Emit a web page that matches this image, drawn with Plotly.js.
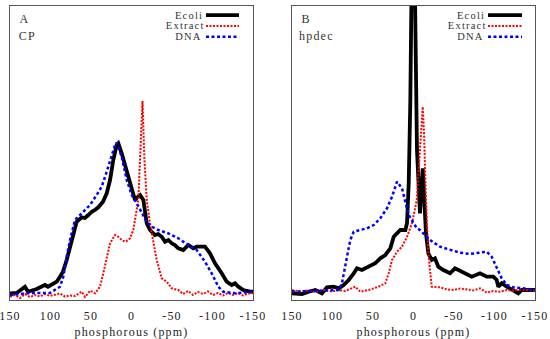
<!DOCTYPE html>
<html>
<head>
<meta charset="utf-8">
<script src="https://cdn.plot.ly/plotly-3.0.1.min.js"></script>
<style>
html,body{margin:0;padding:0;background:#fff;}
#chart{width:550px;height:339px;}
#chart svg text{letter-spacing:1.2px;}
</style>
</head>
<body>
<div id="chart"></div>
<script>
// ---------- Panel A (CP) ----------
var aEcoliPpm = [150,141.7,131.5,127.8,117.0,106.8,103.1,96.9,92.3,88.3,84.6,80.0,75.9,72.2,67.7,61.5,57.5,53.3,49.1,45.1,41.0,35.2,30.6,26.5,22.5,18.3,16.3,12.1,5.9,-0.3,-4.3,-7.5,-10.5,-14.6,-18.8,-22.8,-29.0,-33.0,-37.3,-41.4,-45.5,-49.6,-53.5,-57.8,-64.0,-70.1,-76.3,-80.5,-90.7,-96.9,-103.1,-111.4,-117.5,-123.7,-127.8,-131.9,-138.0,-146.3,-150];
var aEcoliVal = [6.7,7,13.3,8.3,11,15,13.3,16,18.3,23.3,28.3,40,53.3,67,78.3,82.7,82,85,88.3,90,92.7,98.3,106.7,120,140,155,156.7,146.7,128,111,100,103,105,100,76.7,70,65,66,63.3,58.3,60,56.7,55,51.7,50,55,51.7,53.3,53.3,46.7,36.7,26.7,18.3,15,16.7,13.3,10,8.3,8.3];

var aExtractPpm = [150,143.8,137.7,131.5,125.3,119.1,113,106.8,100.6,94.4,88.3,82.1,75.9,69.8,66.0,61.5,57.4,53.7,51.2,45.1,38.9,34.8,30.6,26.5,20.4,16.3,12.1,8.0,3.9,1.8,-2.2,-6.4,-8.4,-10.5,-13.6,-15.8,-18.8,-22.8,-26.9,-31.1,-37.3,-43.5,-49.6,-57.8,-63.6,-69.8,-75.9,-82.1,-88.3,-94.4,-100.6,-106.8,-113,-119.1,-125.3,-131.5,-137.7,-143.8,-150];
var aExtractVal = [3.3,5,2,6,3,5,3.5,6,4,5.5,6.7,3.3,4.5,4,6,8.3,3,7,9.3,6.7,13.3,26.7,43.3,56.7,65,63.3,60,58.3,60,61.7,70,93.3,100,140,199,143.3,100,76.7,56.7,40,21.7,18.3,11.7,10,6,9,5,8,6,8.5,5,7,4.5,7,5,7,4.5,6.5,6.7];

var aDnaPpm = [150,129.4,113,100.6,88.3,84.2,80.0,75.9,69.8,65.7,59.5,51.2,43.0,36.8,30.6,26.5,20.4,18.3,12.1,5.9,-0.3,-6.4,-12.6,-18.8,-24.9,-33.1,-45.4,-57.8,-70.1,-80.5,-90.7,-99.0,-107.2,-113.3,-127.8,-150];
var aDnaVal = [5,6.7,7,7,13.3,23.3,43.3,60,80,83.3,88.3,95,105,113.3,128.3,138.3,155,157.3,143.3,120,105,96.7,86.7,78.3,73.3,70,66.7,61.7,55,50,38.3,26.7,13.3,8.3,6.7,8.3];

// ---------- Panel B (hpdec) ----------
var bEcoliPpm = [150,137.7,129.4,121.2,113,106.8,98.5,92.3,86.2,80.0,73.8,69.8,63.6,55.3,47.2,41.0,34.8,28.6,24.4,20.4,16.3,10.1,8.0,5.9,3.9,1.0,-1.9,-4.3,-8.0,-11.4,-15.4,-18.3,-22.5,-26.5,-30.6,-36.8,-45.1,-51.2,-59.5,-65.7,-71.9,-82.1,-90.4,-98.5,-102.7,-104.7,-108.9,-115.1,-123.2,-129.4,-133.6,-141.8,-150];
var bEcoliVal = [6.7,6,8.3,10,6.7,12.7,13.3,11.7,15,20,26.7,31.7,30,33.3,36.7,41.7,45,51.7,63.3,66.7,70,70,76.7,116.7,200,420,300,150,86.7,131.7,66.7,46.7,40,41.7,33.3,30,26.7,31.7,28.3,26.7,23.3,26.7,23.3,23.3,20,13.3,16.7,13.3,10,6.7,10,10,10];

var bExtractPpm = [150,140.1,130.2,120.4,110.5,100.6,92.3,84.6,78.4,71.9,65.7,55.3,43.0,34.8,30.6,26.5,20.4,14.2,8.0,1.8,-4.0,-7.2,-10.1,-11.4,-13.0,-15.4,-18.3,-22.5,-32.7,-41.4,-49.2,-57.4,-65.7,-73.5,-82.1,-90.4,-98.2,-106.8,-115.4,-123.2,-131.5,-139.8,-150];
var bExtractVal = [10,8.5,9.5,8,10,8.5,10,9,11,13.3,8.3,10,13.3,16.7,26.7,40,48.3,53.3,63.3,76.7,100,140,173.3,193.3,166.7,100,46.7,13.3,12.7,10.5,10,11.5,10.7,9.5,11.7,7.3,9,8.3,10,9.3,10.5,10,9.3];

var bDnaPpm = [150,127.8,108.9,92.3,88.3,86.2,82.1,78.0,73.8,65.7,57.4,49.1,41.0,32.7,26.5,20.4,14.2,10.1,5.9,-0.2,-4.3,-8.0,-20.4,-32.7,-45.1,-57.4,-69.8,-82.1,-90.4,-96.5,-102.7,-108.9,-115.1,-123.2,-135.6,-150];
var bDnaVal = [8.3,9,10,10,16.7,26.7,43.3,60,68.3,70,71.7,75,81.7,91.7,103.3,118.3,111.7,98.3,85,76.7,71.7,70,60,53.3,50,47.3,46,47.3,48.3,43.3,33.3,21.7,15,12.7,11.7,10];

var seriesNames = ['Ecoli','Extract','DNA'];
var tickVals = [150,100,50,0,-50,-100,-150];
var tickText = ['150','100','50','0','-50','-100','-150'];
var panelLabels = [['A','CP'],['B','hpdec']];
var xTitle = 'phosphorous (ppm)';

var FONT = 'Liberation Serif, DejaVu Serif, serif';
var styles = [
  {color:'#000000', width:3.8, dash:'solid'},
  {color:'#ff0000', width:2, dash:'2px,1.5px'},
  {color:'#0000ff', width:2.5, dash:'3px,2.5px'}
];

function tr(x, y, i, xa, ya) {
  return {x:x, y:y, type:'scatter', mode:'lines', name:seriesNames[i],
    xaxis:xa, yaxis:ya, showlegend:false, hoverinfo:'skip',
    line:{color:styles[i].color, width:styles[i].width, dash:styles[i].dash, shape:'linear'}};
}

var data = [
  tr(aEcoliPpm, aEcoliVal, 0, 'x', 'y'),
  tr(aExtractPpm, aExtractVal, 1, 'x', 'y'),
  tr(aDnaPpm, aDnaVal, 2, 'x', 'y'),
  tr(bEcoliPpm, bEcoliVal, 0, 'x2', 'y2'),
  tr(bExtractPpm, bExtractVal, 1, 'x2', 'y2'),
  tr(bDnaPpm, bDnaVal, 2, 'x2', 'y2')
];

var W = 550, H = 339;
function px(v){return v/W;}
function py(v){return 1 - v/H;}

var domA = [px(10), px(253)];
var domB = [px(292), px(535)];
var domY = [py(300), py(6)];

function xax(dom, anchor) {
  return {domain:dom, anchor:anchor, range:[150,-150], tickvals:tickVals, ticktext:tickText,
    ticks:'', showgrid:false, zeroline:false, showline:true, mirror:true, linecolor:'#555', linewidth:1,
    ticklabelstandoff:5,
    tickfont:{family:FONT, size:12, color:'#222'},
    title:{text:xTitle, font:{family:FONT, size:12, color:'#222'}, standoff:5}};
}
function yax(anchor) {
  return {domain:domY, anchor:anchor, range:[0,294], showticklabels:false, ticks:'',
    showgrid:false, zeroline:false, showline:true, mirror:true, linecolor:'#555', linewidth:1};
}

var annotations = [];
var shapes = [];
var legendYs = [15.2, 26.0, 36.8];
var legendSets = [{textRight:201, l0:206, l1:239}, {textRight:483, l0:488, l1:522}];
legendSets.forEach(function(s){
  for (var i=0;i<3;i++) {
    annotations.push({xref:'paper', yref:'paper', x:px(s.textRight), y:py(legendYs[i]),
      xanchor:'right', yanchor:'middle', showarrow:false, text:seriesNames[i],
      font:{family:FONT, size:10.5, color:'#333'}, borderpad:0});
    shapes.push({type:'line', xref:'paper', yref:'paper', x0:px(s.l0), x1:px(s.l1),
      y0:py(legendYs[i]), y1:py(legendYs[i]),
      line:{color:styles[i].color, width:styles[i].width, dash:styles[i].dash}});
  }
});
var labelX = [18, 300];
for (var p=0;p<2;p++) {
  annotations.push({xref:'paper', yref:'paper', x:px(labelX[p]), y:py(19), xanchor:'left', yanchor:'middle',
    showarrow:false, text:panelLabels[p][0], font:{family:FONT, size:12, color:'#333'}});
  annotations.push({xref:'paper', yref:'paper', x:px(labelX[p]), y:py(36), xanchor:'left', yanchor:'middle',
    showarrow:false, text:panelLabels[p][1], font:{family:FONT, size:12, color:'#333'}});
}

var layout = {
  width:W, height:H, margin:{l:0, r:0, t:0, b:0},
  paper_bgcolor:'#ffffff', plot_bgcolor:'#ffffff',
  showlegend:false,
  xaxis: xax(domA, 'y'),
  yaxis: yax('x'),
  xaxis2: xax(domB, 'y2'),
  yaxis2: yax('x2'),
  annotations: annotations,
  shapes: shapes
};

Plotly.newPlot('chart', data, layout, {staticPlot:true, displayModeBar:false});
</script>
</body>
</html>
